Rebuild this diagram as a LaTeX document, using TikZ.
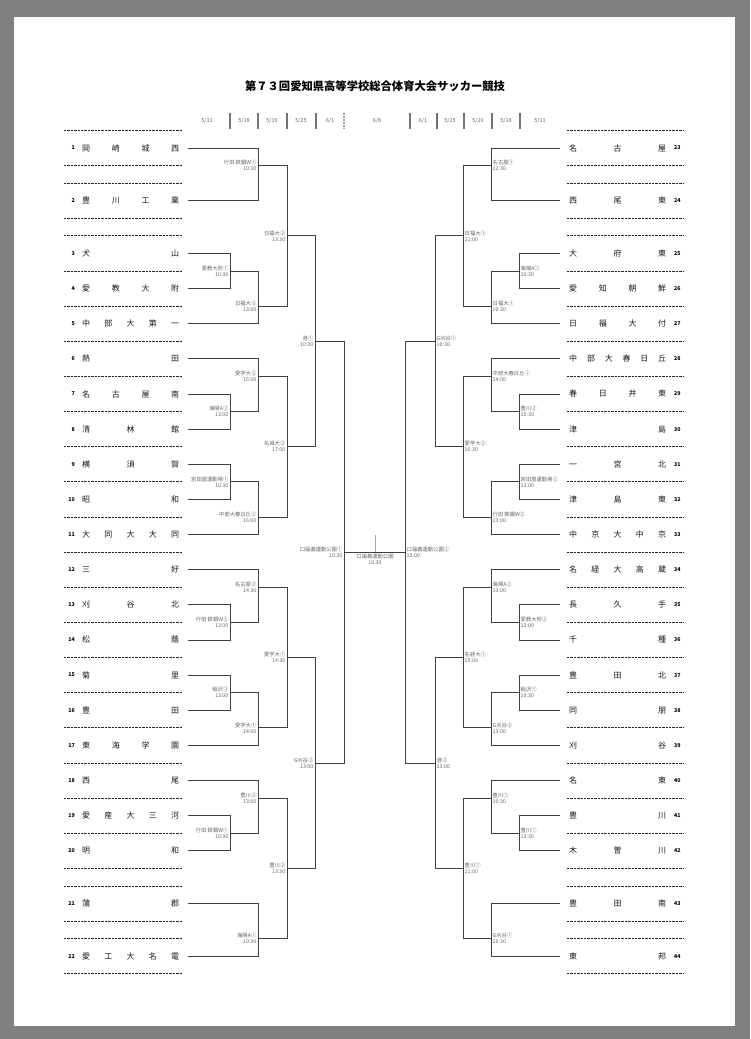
\documentclass[tikz,border=0pt]{standalone}
\usepackage{fontspec}
\setmainfont{Noto Sans CJK JP}
\definecolor{viewer}{gray}{0.5}
% slot -> y position (pixels, downwards)
\newcommand{\ys}[1]{148+17.57*(#1)}
% spread the characters of a name over the column
\newcommand{\spread}[1]{\hbox to 97pt{\spaceskip=0pt plus 1fil\relax\ignorespaces #1\unskip}}
\tikzset{
    team/.style={inner sep=0pt, font=\fontsize{8}{9}\selectfont, text=black!90},
    num/.style={inner sep=0pt, font=\fontsize{5.3}{6}\selectfont\bfseries},
    venue/.style={inner sep=0pt, font=\fontsize{5.3}{6}\selectfont, text=black!60},
    date/.style={inner sep=0pt, font=\fontsize{5.5}{6}\selectfont, text=black!60},
    bline/.style={black!75, line width=0.8pt},
    sepline/.style={black!85, line width=0.75pt, dash pattern=on 2.4pt off 1pt},
}
\begin{document}
\begin{tikzpicture}[x=1pt, y=-1pt]
    % Viewer background and page
    \fill[viewer] (0,0) rectangle (750,1039);
    \fill[white] (14,17) rectangle (735,1026);
    \useasboundingbox (0,0) rectangle (750,1039);

    % Title and match days
    \node[font=\fontsize{11.3}{13}\selectfont\bfseries] (title) at (375,86) {第７３回愛知県高等学校総合体育大会サッカー競技};
    \foreach \x in {230,258,287,316,410,437,464,492,520}
        \draw[black!55, line width=1.1pt] (\x,113) -- (\x,129);
    \draw[black!35, line width=1.1pt, dash pattern=on 2pt off 1pt] (344,113) -- (344,129);
    \foreach \x/\d in {207/{5/11},244/{5/18},272/{5/19},301/{5/25},330/{6/1},377/{6/8},
                       423/{6/1},450/{5/25},478/{5/19},506/{5/18},540/{5/11}}
        \node[date] (d\x) at (\x,121) {\d};

    % Left half: teams
    \foreach \n/\s/\name in {1/0/岡 崎 城 西,2/3/豊 川 工 業,3/6/犬 山,4/8/愛 教 大 附,
        5/10/中 部 大 第 一,6/12/熱 田,7/14/名 古 屋 南,8/16/清 林 館,9/18/横 須 賀,
        10/20/昭 和,11/22/大 同 大 大 同,12/24/三 好,13/26/刈 谷 北,14/28/松 蔭,
        15/30/菊 里,16/32/豊 田,17/34/東 海 学 園,18/36/西 尾,19/38/愛 産 大 三 河,
        20/40/明 和,21/43/蒲 郡,22/46/愛 工 大 名 電}{
        \draw[sepline] (64,{\ys{\s-1}}) -- (182,{\ys{\s-1}});
        \draw[sepline] (64,{\ys{\s+1}}) -- (182,{\ys{\s+1}});
        \node[team, anchor=west] (L\n) at (82,{\ys{\s}}) {\spread{\name}};
        \node[num, anchor=east] (n\n) at (75,{\ys{\s}}) {\n};
        \coordinate (Ls\n) at (188,{\ys{\s}});
    }

    % Right half: teams
    \foreach \n/\s/\name in {23/0/名 古 屋,24/3/西 尾 東,25/6/大 府 東,26/8/愛 知 朝 鮮,
        27/10/日 福 大 付,28/12/中 部 大 春 日 丘,29/14/春 日 井 東,30/16/津 島,
        31/18/一 宮 北,32/20/津 島 東,33/22/中 京 大 中 京,34/24/名 経 大 高 蔵,
        35/26/長 久 手,36/28/千 種,37/30/豊 田 北,38/32/同 朋,39/34/刈 谷,
        40/36/名 東,41/38/豊 川,42/40/木 曽 川,43/43/豊 田 南,44/46/東 邦}{
        \draw[sepline] (567,{\ys{\s-1}}) -- (683,{\ys{\s-1}});
        \draw[sepline] (567,{\ys{\s+1}}) -- (683,{\ys{\s+1}});
        \node[team, anchor=west] (R\n) at (569,{\ys{\s}}) {\spread{\name}};
        \node[num, anchor=west] (n\n) at (674,{\ys{\s}}) {\n};
        \coordinate (Rs\n) at (560,{\ys{\s}});
    }

    % Left half: matches (id/x/out slot/venue/time)
    \foreach \id/\x/\o/\vn/\tm in {A/258/1/行田 鉄鋼W①/10:30,B/230/7/愛教大附①/10:30,
        C/258/9/日福大②/13:00,D/287/5/日福大②/13:30,E/230/15/海陽A②/13:00,
        F/258/13/愛学大②/16:00,G/230/19/岩田屋運動場①/10:30,H/258/21/中部大春日丘②/16:00,
        I/287/17/名城大②/17:00,J/315/11/港①/10:30,K/344/23/口論義運動公園①/10:30,
        L/230/27/行田 鉄鋼W②/13:00,M/258/25/名古屋②/14:30,N/230/31/稲沢②/13:00,
        O/258/33/愛学大①/14:00,P/287/29/愛学大①/14:30,Q/230/39/行田 鉄鋼W①/10:30,
        R/258/37/豊川②/13:00,S/258/45/海陽A①/10:30,T/287/41/豊川②/13:30,
        U/315/35/G刈谷②/13:00}{
        \coordinate (m\id) at (\x,{\ys{\o}});
        \node[venue, anchor=east, align=right] (v\id) at ([xshift=-1.5pt]m\id) {\vn\\\tm};
    }

    % Right half: matches
    \foreach \id/\x/\o/\vn/\tm in {a/491/1/名古屋①/12:30,b/519/7/海陽A①/10:30,
        c/491/9/日福大①/10:30,d/463/5/日福大①/11:00,e/519/15/豊川②/15:30,
        f/491/13/中部大春日丘①/14:00,g/519/19/岩田屋運動場②/13:00,h/491/21/行田 鉄鋼W②/13:00,
        i/463/17/愛学大②/16:30,j/435/11/G刈谷①/10:30,k/405/23/口論義運動公園②/13:00,
        l/519/27/愛教大附②/13:00,m/491/25/海陽A②/13:00,n/519/31/稲沢①/10:30,
        o/491/33/G刈谷②/13:00,p/463/29/名経大①/15:00,q/519/39/豊川①/13:30,
        r/491/37/豊川①/10:30,s/491/45/G刈谷①/10:30,t/463/41/豊川①/11:00,
        u/435/35/港②/13:00}{
        \coordinate (m\id) at (\x,{\ys{\o}});
        \node[venue, anchor=west, align=left] (v\id) at ([xshift=1.5pt]m\id) {\vn\\\tm};
    }

    % Bracket lines
    \foreach \a/\b in {Ls1/mA,Ls2/mA,Ls3/mB,Ls4/mB,Ls5/mC,Ls6/mF,Ls7/mE,Ls8/mE,
        Ls9/mG,Ls10/mG,Ls11/mH,Ls12/mM,Ls13/mL,Ls14/mL,Ls15/mN,Ls16/mN,Ls17/mO,
        Ls18/mR,Ls19/mQ,Ls20/mQ,Ls21/mS,Ls22/mS,
        mB/mC,mA/mD,mC/mD,mE/mF,mG/mH,mF/mI,mH/mI,mD/mJ,mI/mJ,mJ/mK,
        mL/mM,mN/mO,mM/mP,mO/mP,mQ/mR,mR/mT,mS/mT,mP/mU,mT/mU,mU/mK,
        Rs23/ma,Rs24/ma,Rs25/mb,Rs26/mb,Rs27/mc,Rs28/mf,Rs29/me,Rs30/me,
        Rs31/mg,Rs32/mg,Rs33/mh,Rs34/mm,Rs35/ml,Rs36/ml,Rs37/mn,Rs38/mn,Rs39/mo,
        Rs40/mr,Rs41/mq,Rs42/mq,Rs43/ms,Rs44/ms,
        mb/mc,ma/md,mc/md,me/mf,mg/mh,mf/mi,mh/mi,md/mj,mi/mj,mj/mk,
        ml/mm,mn/mo,mm/mp,mo/mp,mq/mr,mr/mt,ms/mt,mp/mu,mt/mu,mu/mk}
        \draw[bline] (\a) -| (\b);

    % Final
    \coordinate (fin) at (375,{\ys{23}});
    \draw[bline] (mK) -- (mk);
    \draw[black!35, line width=0.8pt] (fin) -- ++(0,-17);
    \node[venue, anchor=north, align=center] (vfin) at ([yshift=-2pt]fin) {口論義運動公園\\10:30};
\end{tikzpicture}
\end{document}
